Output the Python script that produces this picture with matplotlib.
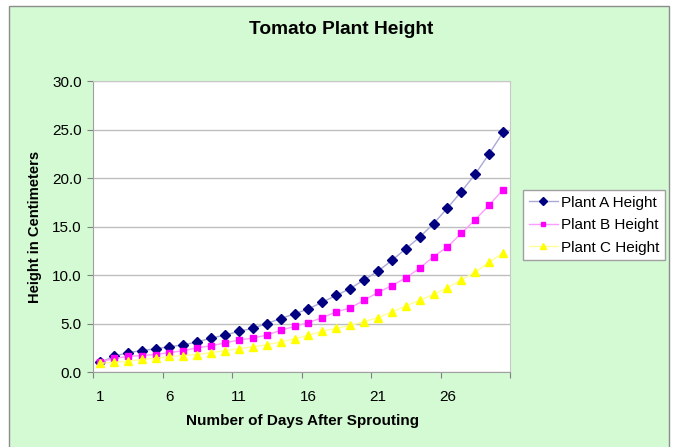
import matplotlib
matplotlib.use("Agg")
import matplotlib.pyplot as plt
from matplotlib.patches import Rectangle
import numpy as np

plt.rcParams['font.family'] = ['Liberation Sans', 'DejaVu Sans']

days = list(range(1, 31))
plant_a = [1.0, 1.6, 2.0, 2.2, 2.4, 2.6, 2.8, 3.1, 3.5, 3.8, 4.2, 4.5, 5.0, 5.5, 6.0,
           6.5, 7.2, 7.9, 8.6, 9.5, 10.4, 11.5, 12.7, 13.9, 15.3, 16.9, 18.6, 20.4, 22.5, 24.7]
plant_b = [1.0, 1.4, 1.6, 1.7, 1.8, 2.0, 2.2, 2.5, 2.7, 3.0, 3.3, 3.5, 3.8, 4.3, 4.7,
           5.1, 5.6, 6.2, 6.6, 7.4, 8.2, 8.9, 9.7, 10.7, 11.9, 12.9, 14.3, 15.7, 17.2, 18.8]
plant_c = [0.9, 1.0, 1.1, 1.3, 1.4, 1.6, 1.7, 1.8, 2.0, 2.2, 2.4, 2.6, 2.8, 3.1, 3.4,
           3.8, 4.2, 4.5, 4.8, 5.2, 5.6, 6.2, 6.8, 7.4, 8.0, 8.7, 9.5, 10.3, 11.3, 12.3]
labels = ["Plant A Height", "Plant B Height", "Plant C Height"]
x_tick_labels = ["1", "6", "11", "16", "21", "26"]

W, H = 678, 447
fig = plt.figure(figsize=(W / 100, H / 100), dpi=100, facecolor='white')

# green chart frame
fig.patches.append(Rectangle((9 / W, -0.02), 660 / W, 1 - 6 / H + 0.02,
                             transform=fig.transFigure, facecolor='#D3FAD3',
                             edgecolor='#8C8C8C', linewidth=1.0, zorder=-10))

ax = fig.add_axes([93 / W, 1 - 372 / H, (510 - 93) / W, (372 - 81) / H])
ax.set_zorder(1)
ax.set_facecolor('white')

series = [
    (plant_a, 'D', '#000080', '#A9A9D6', 4.6),
    (plant_b, 's', '#FF00FF', '#FF9CFF', 4.4),
    (plant_c, '^', '#FFFF00', '#FFFF9A', 5.4),
]
for (vals, mk, mcol, lcol, ms), lab in zip(series, labels):
    ax.plot(days, vals, color=lcol, linewidth=1.0, marker=mk, markersize=ms,
            markerfacecolor=mcol, markeredgecolor=mcol, label=lab, zorder=3)

ax.set_xlim(0.5, 30.5)
ax.set_ylim(0, 30)
ax.set_yticks(np.arange(0, 31, 5))
ax.set_yticklabels([f"{v:.1f}" for v in np.arange(0, 31, 5)], fontsize=11)
ax.yaxis.grid(True, color='#BEBEBE', linewidth=1.0)
ax.set_axisbelow(True)

ax.set_xticks(np.arange(0.5, 31, 5))
ax.set_xticklabels([])
ax.set_xticks([1, 6, 11, 16, 21, 26], minor=True)
ax.set_xticklabels(x_tick_labels, minor=True, fontsize=11)
ax.tick_params(axis='x', which='minor', length=0, pad=13)
ax.tick_params(axis='x', which='major', length=4, color='#808080', direction='out')
ax.tick_params(axis='y', length=4, color='#808080', direction='out', pad=4)

for s in ['top', 'right']:
    ax.spines[s].set_color('#C8C8C8')
for s in ['left', 'bottom']:
    ax.spines[s].set_color('#A0A0A0')

fig.text(341 / W, 1 - 29 / H, "Tomato Plant Height", ha='center', va='center',
         fontsize=13.8, fontweight='bold')
fig.text(302 / W, 1 - 421 / H, "Number of Days After Sprouting", ha='center', va='center',
         fontsize=11, fontweight='bold')
fig.text(35 / W, 1 - 227 / H, "Height in Centimeters", ha='center', va='center',
         rotation=90, fontsize=10.6, fontweight='bold')

leg = fig.legend(loc='upper left', bbox_to_anchor=(523 / W, 1 - 190 / H),
                 frameon=True, fancybox=False, edgecolor='#A0A0A0', facecolor='white',
                 framealpha=1, fontsize=11, handlelength=1.9, labelspacing=0.55,
                 borderpad=0.38, handletextpad=0.2, borderaxespad=0, markerscale=0.8)
leg.get_frame().set_linewidth(1.0)

fig.savefig("out.png", dpi=100, facecolor='white')
